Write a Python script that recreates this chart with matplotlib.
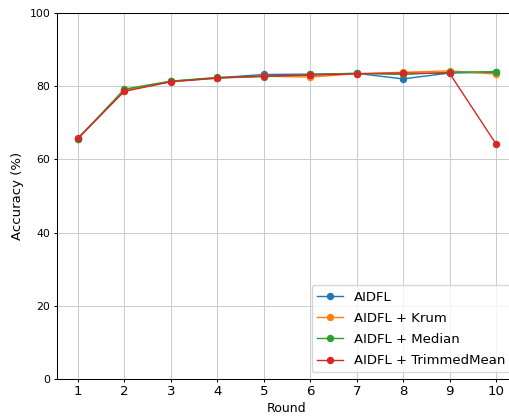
import matplotlib
matplotlib.use("Agg")
import matplotlib.pyplot as plt

rounds = [1, 2, 3, 4, 5, 6, 7, 8, 9, 10]
aidfl = [65.7, 78.9, 81.3, 82.3, 83.2, 83.3, 83.5, 82.0, 83.6, 83.8]
aidfl_krum = [65.7, 78.8, 81.3, 82.2, 82.7, 82.5, 83.4, 83.8, 84.2, 83.3]
aidfl_median = [65.6, 79.2, 81.4, 82.4, 82.6, 83.2, 83.5, 83.2, 83.8, 84.0]
aidfl_trimmed = [65.8, 78.6, 81.2, 82.2, 82.8, 83.0, 83.4, 83.6, 83.5, 64.2]

series = [
    ("AIDFL", aidfl, "tab:blue"),
    ("AIDFL + Krum", aidfl_krum, "tab:orange"),
    ("AIDFL + Median", aidfl_median, "tab:green"),
    ("AIDFL + TrimmedMean", aidfl_trimmed, "tab:red"),
]

fig = plt.figure(figsize=(5.10, 4.17), dpi=100)
# axes run a little past the right edge, like the cropped original
ax = fig.add_axes([57 / 510, 1 - 379 / 417, (517 - 57) / 510, 366 / 417])

for label, values, color in series:
    ax.plot(rounds, values, marker="o", markersize=4.3, linewidth=1.0, color=color, label=label)

ax.set_ylim(0, 100)
ax.set_xlim(0.55, 10.45)
ax.set_xticks(rounds)
ax.set_yticks([0, 20, 40, 60, 80, 100])
ax.tick_params(axis="x", labelsize=9.6, length=2.5, width=0.75, pad=2)
ax.tick_params(axis="y", labelsize=7.8, length=2.5, width=0.75, pad=2.2)
for spine in ax.spines.values():
    spine.set_linewidth(0.75)
ax.set_xlabel("Round", fontsize=9, labelpad=3)
ax.set_ylabel("Accuracy (%)", fontsize=9.5, labelpad=4)
ax.grid(True, color="0.8", linewidth=0.75)
ax.legend(loc="lower right", fontsize=9.5, labelspacing=0.62)

fig.savefig("out.png", dpi=100)
